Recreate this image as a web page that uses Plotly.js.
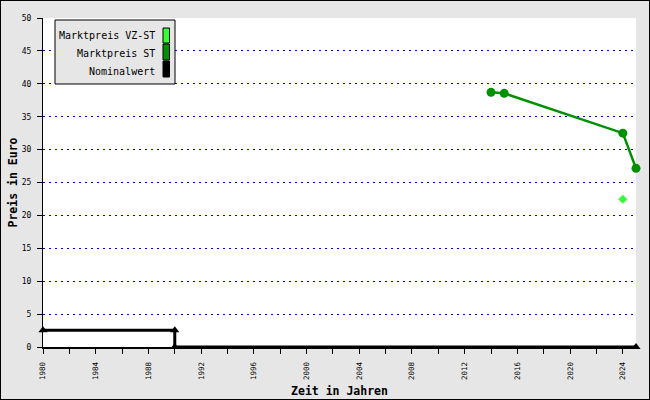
<!DOCTYPE html>
<html><head><meta charset="utf-8">
<script src="https://cdn.plot.ly/plotly-3.0.1.min.js"></script>
<style>
html,body{margin:0;padding:0;background:#fff;}
#wrap{width:650px;height:400px;box-sizing:border-box;border:1px solid #000;overflow:hidden;}
#chart{width:648px;height:398px;}
</style></head>
<body><div id="wrap"><div id="chart"></div></div>
<script>
// ---- data ----
const yearsST = [2014, 2015, 2024, 2025];
const preisST = [38.7, 38.55, 32.5, 27.15];
const yearsVZ = [2024];
const preisVZ = [22.45];
const yearsNominal = [1980, 1990, 1990, 2025];
const nominalwert = [2.56, 2.56, 0, 0];
const seriesNames = ['Marktpreis VZ-ST', 'Marktpreis ST', 'Nominalwert'];
const seriesColors = ['#33ff33', '#009000', '#000000'];
const xTitle = 'Zeit in Jahren';
const yTitle = 'Preis in Euro';

const MONO = '"DejaVu Sans Mono", "Liberation Mono", monospace';

// layout geometry (inner div coords: page minus 1px border)
const W = 648, H = 398;
const L = 42, R = 13, T = 17, B = 52;
const pw = W - L - R, ph = H - T - B;
const px = x => (x - 1 - L) / pw;         // page x -> paper
const py = y => (H - B - (y - 1)) / ph;   // page y -> paper

const traces = [
  {x: yearsNominal, y: nominalwert, name: seriesNames[2], mode: 'lines+markers',
   line: {color: seriesColors[2], width: 3},
   marker: {symbol: 'triangle-up', size: 8, color: seriesColors[2]}, cliponaxis: false},
  {x: yearsST, y: preisST, name: seriesNames[1], mode: 'lines+markers',
   line: {color: seriesColors[1], width: 2.5},
   marker: {symbol: 'circle', size: 9, color: seriesColors[1]}, cliponaxis: false},
  {x: yearsVZ, y: preisVZ, name: seriesNames[0], mode: 'markers',
   marker: {symbol: 'diamond', size: 7, color: seriesColors[0]}, cliponaxis: false}
];

// custom legend (text right, swatch at right)
const shapes = [
  {type: 'rect', xref: 'paper', yref: 'paper', x0: px(55), x1: px(175), y0: py(84), y1: py(20),
   fillcolor: '#e6e6e6', line: {color: '#000', width: 1}, layer: 'above'}
];
const annotations = [];
const rowY = [36, 53, 71];
const swY = [[28, 43], [44, 60], [61, 77]];
for (let i = 0; i < seriesNames.length; i++) {
  annotations.push({xref: 'paper', yref: 'paper', x: px(157), y: py(rowY[i]),
    xanchor: 'right', yanchor: 'middle', showarrow: false, text: seriesNames[i],
    font: {family: MONO, size: 10, color: '#000'}});
  shapes.push({type: 'rect', xref: 'paper', yref: 'paper', x0: px(163), x1: px(169.5),
    y0: py(swY[i][1]), y1: py(swY[i][0]), fillcolor: seriesColors[i],
    line: {color: '#000', width: 1}, layer: 'above'});
}

const layout = {
  width: W, height: H,
  margin: {l: L, r: R, t: T, b: B, pad: 0},
  paper_bgcolor: '#e6e6e6', plot_bgcolor: '#ffffff',
  showlegend: false,
  font: {family: MONO, color: '#000'},
  xaxis: {
    range: [1980, 2025], tick0: 1980, dtick: 4, tickangle: -90,
    ticks: 'outside', ticklen: 5, tickcolor: '#000', tickwidth: 1,
    minor: {dtick: 2, ticks: 'outside', ticklen: 5, tickcolor: '#000', tickwidth: 1, showgrid: false},
    tickfont: {family: MONO, size: 7.5, color: '#000'}, ticklabelstandoff: 5,
    showgrid: false, zeroline: false, showline: true, linecolor: '#000', linewidth: 2,
    title: {text: xTitle, font: {family: MONO, size: 11.5, color: '#000', weight: 'bold'}, standoff: 8},
    fixedrange: true
  },
  yaxis: {
    range: [0, 50], tick0: 0, dtick: 5,
    ticks: 'outside', ticklen: 5, tickcolor: '#000', tickwidth: 1,
    tickfont: {family: MONO, size: 8, color: '#000'}, ticklabelstandoff: 4,
    showgrid: true, gridcolor: '#0000ff', gridwidth: 1, griddash: '2px,4px',
    zeroline: false, showline: true, linecolor: '#000', linewidth: 1,
    title: {text: yTitle, font: {family: MONO, size: 11.5, color: '#000', weight: 'bold'}, standoff: 1},
    fixedrange: true
  },
  shapes: shapes,
  annotations: annotations
};

Plotly.newPlot('chart', traces, layout, {staticPlot: true, displayModeBar: false});
</script></body></html>
